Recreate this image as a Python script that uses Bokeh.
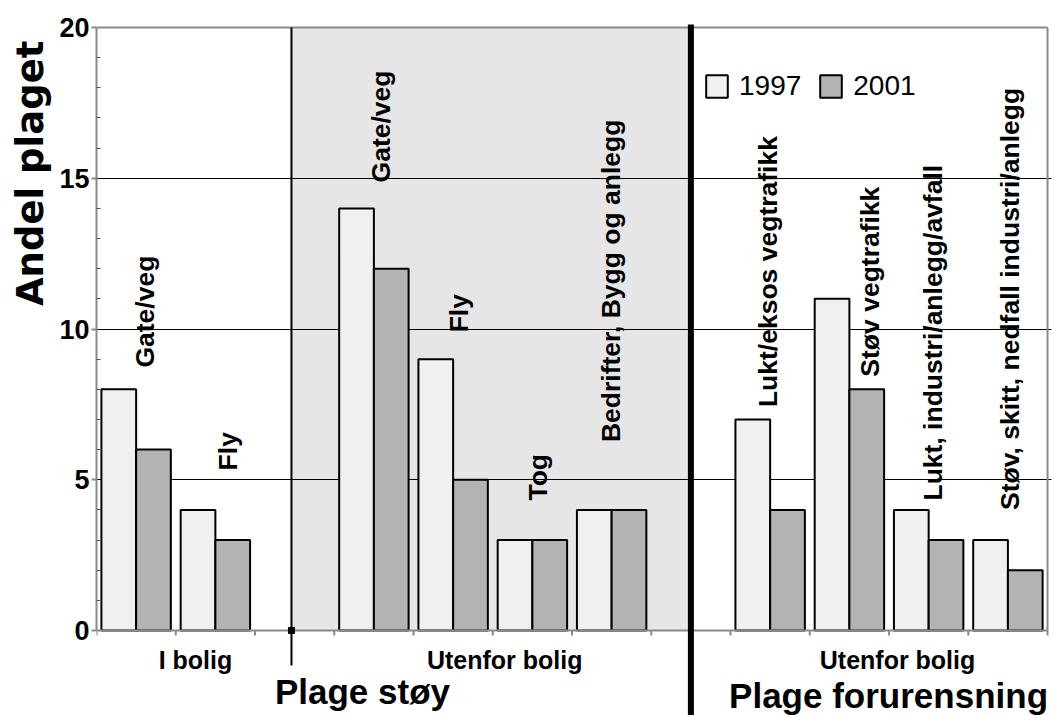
import numpy as np
from bokeh.plotting import figure
from bokeh.models import Range1d, FixedTicker, BoxAnnotation, Title, Legend, LegendItem
from bokeh.core.properties import value
from bokeh.embed import file_html
from bokeh.resources import INLINE

# ---------------- data ----------------
sections = ["Plage støy", "Plage forurensning"]
groups = ["I bolig", "Utenfor bolig", "Utenfor bolig"]
categories = ["Gate/veg", "Fly", "Gate/veg", "Fly", "Tog", "Bedrifter, Bygg og anlegg",
              "Lukt/eksos vegtrafikk", "Støv vegtrafikk", "Lukt, industri/anlegg/avfall",
              "Støv, skitt, nedfall industri/anlegg"]
group_of = [0, 0, 1, 1, 1, 1, 2, 2, 2, 2]
years = ["1997", "2001"]
v1997 = [8, 4, 14, 9, 3, 4, 7, 11, 4, 3]
v2001 = [6, 3, 12, 5, 3, 4, 4, 8, 3, 2]
y_ticks = [0, 5, 10, 15, 20]

# ---------------- layout (positions only) ----------------
pos = np.array([i + g for i, g in enumerate(group_of)], dtype=float)   # slot centres, one empty slot between groups
n_slots = int(pos.max()) + 1
bar_w = 0.438
label_dx = [0.118, 0.153, 0.096, 0.08, 0.077, -0.014, -0.033, 0.254, 0.05, 0.03]
label_y = [8.72, 5.31, 14.86, 9.89, 4.31, 6.25, 7.41, 8.42, 4.31, 4.0]
group_x = [0.749, 4.65, 9.607]
section_x = [2.856, 9.494]
div_thin = 1.96
div_thick = 7.0

FONT = "Liberation Sans"
C97, C01 = "#f0f0f0", "#b3b3b3"
AXC = "#8a8a8a"

W, H = 1061, 715
px_per_unit = 30.15
y_top = 20 + 8 / px_per_unit
y_bot = -(H - 630) / px_per_unit

p = figure(width=W, height=H, x_range=Range1d(-0.5, 11.55), y_range=Range1d(y_bot, y_top),
           output_backend="svg", toolbar_location=None, x_axis_location=None,
           min_border_left=96, min_border_right=10, min_border_top=19, min_border_bottom=0)
p.outline_line_color = None
p.background_fill_color = "white"
p.border_fill_color = "white"
p.xgrid.grid_line_color = None

# y axis
yax = p.yaxis[0]
yax.ticker = FixedTicker(ticks=y_ticks, minor_ticks=[i for i in range(1, 20) if i % 5])
yax.bounds = (0, 20)
yax.axis_line_color = AXC
yax.axis_line_width = 2
yax.major_tick_in = 0
yax.major_tick_out = 5
yax.major_tick_line_color = AXC
yax.major_tick_line_width = 2
yax.minor_tick_in = 4
yax.minor_tick_out = 0
yax.minor_tick_line_color = "#555555"
yax.major_label_text_font = FONT
yax.major_label_text_font_style = "bold"
yax.major_label_text_font_size = "27px"
yax.major_label_text_color = "black"
yax.major_label_standoff = 2

p.ygrid.ticker = FixedTicker(ticks=[5, 10, 15])
p.ygrid.bounds = (-0.5, n_slots - 0.5)
p.ygrid.grid_line_color = "black"
p.ygrid.grid_line_width = 1

# y title
p.add_layout(Title(text="Andel plaget", align="right", offset=21, standoff=10,
                   text_font="DejaVu Sans", text_font_style="bold", text_font_size="37px",
                   text_color="black"), "left")

# shaded band behind grid
band = BoxAnnotation(left=div_thin, right=div_thick, bottom=0, top=20, fill_color="#e6e6e6",
                     fill_alpha=1.0, line_color=None, level="underlay")
p.add_layout(band)
p.center = [band] + [r for r in p.center if r is not band]

# bars
r1 = p.vbar(x=pos - bar_w / 2, top=v1997, width=bar_w, fill_color=C97, line_color="black", line_width=2)
r2 = p.vbar(x=pos + bar_w / 2, top=v2001, width=bar_w, fill_color=C01, line_color="black", line_width=2)

# frame: top & right border, x axis line and ticks
edges = np.arange(n_slots + 1) - 0.5
p.segment(x0=[-0.5, n_slots - 0.5, -0.5], y0=[20, 0, 0], x1=[n_slots - 0.5, n_slots - 0.5, n_slots - 0.5],
          y1=[20, 20, 0], line_color=AXC, line_width=2)
p.segment(x0=edges, y0=[0] * len(edges), x1=edges, y1=[-5 / px_per_unit] * len(edges),
          line_color=AXC, line_width=2)

# dividers
p.segment(x0=[div_thin], y0=[20], x1=[div_thin], y1=[-35 / px_per_unit], line_color="black", line_width=2)
p.scatter(x=[div_thin], y=[0], marker="square", size=6, color="black")
p.segment(x0=[div_thick], y0=[20 + 3 / px_per_unit], x1=[div_thick], y1=[y_bot - 1],
          line_color="black", line_width=6)

# rotated category labels
p.text(x=pos + np.array(label_dx), y=label_y, text=categories, angle=np.pi / 2,
       text_align="left", text_baseline="middle", text_font=value(FONT),
       text_font_style="bold", text_font_size="26.5px", text_color="black")

# group labels under axis
p.text(x=group_x, y=[-29 / px_per_unit] * 3, text=groups, text_align="center",
       text_baseline="alphabetic", text_font=value(FONT), text_font_style="bold",
       text_font_size="25px", text_color="black")
# section labels
p.text(x=section_x, y=[-61 / px_per_unit, -65 / px_per_unit], text=sections, text_align="center",
       text_baseline="alphabetic", text_font=value(FONT), text_font_style="bold",
       text_font_size="35px", text_color="black")

legend = Legend(items=[LegendItem(label=years[0], renderers=[r1]), LegendItem(label=years[1], renderers=[r2])],
                orientation="horizontal", location=(607, 613), glyph_width=27, glyph_height=28,
                label_standoff=9, spacing=16, padding=0, margin=0, border_line_color=None,
                background_fill_alpha=0, label_text_font=FONT, label_text_font_size="28px",
                label_text_color="black", label_height=28, label_text_baseline="middle")
p.add_layout(legend)

open("out.html", "w").write(file_html(p, INLINE))
